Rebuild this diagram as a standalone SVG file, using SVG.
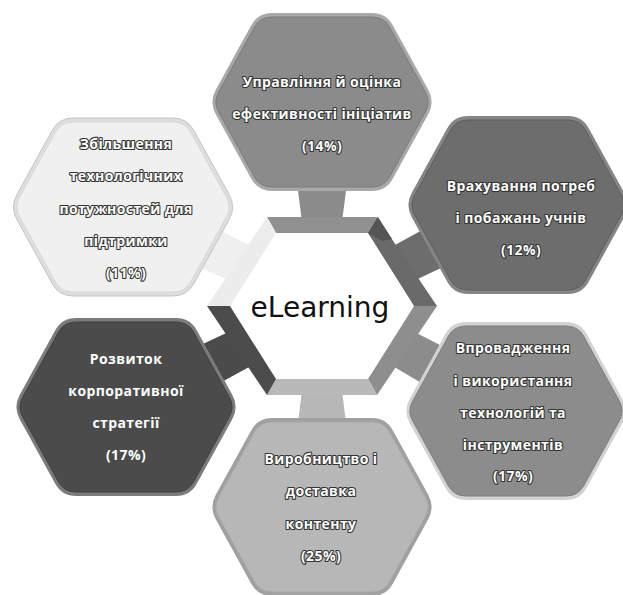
<svg xmlns="http://www.w3.org/2000/svg" xmlns:xlink="http://www.w3.org/1999/xlink" width="623" height="595" viewBox="0 0 623 595">
<defs>
<style>
.t{font-family:"Open Sans","DejaVu Sans",sans-serif;font-weight:700;font-size:14px;letter-spacing:0.4px;fill:#ffffff;stroke:#333333;stroke-width:2.2;paint-order:stroke;stroke-linejoin:round;text-anchor:middle}
.tp{font-family:"Open Sans","DejaVu Sans",sans-serif;font-weight:700;font-size:14px;letter-spacing:0.4px;fill:#ffffff;text-anchor:middle}
.c{font-family:"DejaVu Sans","Liberation Sans",sans-serif;font-size:28px;fill:#111111;text-anchor:middle}
</style>
<path id="hexO" d="M-50,-89 L50,-89 Q64,-89 70.75,-76.74 L106.25,-12.26 Q113,0 106.25,12.26 L70.75,76.74 Q64,89 50,89 L-50,89 Q-64,89 -70.75,76.74 L-106.25,12.26 Q-113,0 -106.25,-12.26 L-70.75,-76.74 Q-64,-89 -50,-89 Z"/>
<path id="hexI" d="M-50,-85 L50,-85 Q62,-85 67.5,-75 L103.5,-9.6 Q108.8,0 103.5,9.6 L67.5,75 Q62,85 50,85 L-50,85 Q-62,85 -67.5,75 L-103.5,9.6 Q-108.8,0 -103.5,-9.6 L-67.5,-75 Q-62,-85 -50,-85 Z"/>
</defs>
<rect width="623" height="595" fill="#ffffff"/>
<g id="connectors">
<polygon points="296,175 348,175 342,222 302,222" fill="#8b8b8b"/>
<polygon points="389,248.3 507.1,183.6 528.9,226.4 407.2,283.9" fill="#6d6d6d"/>
<polygon points="407.8,328.4 527.6,390 504.4,432 388.4,363.4" fill="#8c8c8c"/>
<polygon points="302,390 342,390 348,440 296,440" fill="#b7b7b7"/>
<polygon points="236.8,328.1 115.1,385.6 136.9,428.4 255,363.7" fill="#4b4b4b"/>
<polygon points="254.6,248.1 133.4,185.4 112.6,228.6 237.2,284.1" fill="#efefef"/>
</g>
<g id="node-top" transform="translate(322,102)">
<use xlink:href="#hexO" fill="#a8a8a8"/>
<use xlink:href="#hexI" fill="#8b8b8b" stroke="#7a7a7a" stroke-width="1"/>
</g>
<g id="node-upper-right" transform="translate(518,205)">
<use xlink:href="#hexO" fill="#858585"/>
<use xlink:href="#hexI" fill="#6d6d6d" stroke="#5e5e5e" stroke-width="1"/>
</g>
<g id="node-lower-right" transform="translate(516,411)">
<use xlink:href="#hexO" fill="#d2d2d2"/>
<use xlink:href="#hexI" fill="#8c8c8c" stroke="#7c7c7c" stroke-width="1"/>
</g>
<g id="node-bottom" transform="translate(322,507)">
<use xlink:href="#hexO" fill="#a0a0a0"/>
<use xlink:href="#hexI" fill="#b7b7b7" stroke="#a8a8a8" stroke-width="1"/>
</g>
<g id="node-lower-left" transform="translate(126,407)">
<use xlink:href="#hexO" fill="#7b7b7b"/>
<use xlink:href="#hexI" fill="#4b4b4b" stroke="#404040" stroke-width="1"/>
</g>
<g id="node-upper-left" transform="translate(123,207)">
<use xlink:href="#hexO" fill="#dedede" stroke="#c4c4c4" stroke-width="1"/>
<use xlink:href="#hexI" fill="#f0f0f0" stroke="#d8d8d8" stroke-width="1"/>
</g>
<g id="node-center">
<polygon points="267,217 377,217 368,233 276,233" fill="#909090"/>
<polygon points="377,217 437,306 414,306 368,233" fill="#6a6a6a"/>
<polygon points="437,306 377,395 368,379 414,306" fill="#8e8e8e"/>
<polygon points="377,395 267,395 276,379 368,379" fill="#b9b9b9"/>
<polygon points="267,395 207,306 230,306 276,379" fill="#4c4c4c"/>
<polygon points="207,306 267,217 276,233 230,306" fill="#ececec"/>
<polygon points="378,217 392,239 382,241 368,233" fill="#555555"/>
<path d="M284,233 L360,233 Q368,233 372,240 L410,300 Q414,306 410,312 L372,372 Q368,379 360,379 L284,379 Q276,379 272,372 L234,312 Q230,306 234,300 L272,240 Q276,233 284,233 Z" fill="#ffffff"/>
<text class="c" x="320" y="317">eLearning</text>
</g>
<g id="labels">
<text class="t" x="322" y="87">Управління й оцінка</text>
<text class="t" x="322" y="119">ефективності ініціатив</text>
<text class="t" x="322" y="151">(14%)</text>
<text class="t" x="521" y="191">Врахування потреб</text>
<text class="t" x="521" y="223">і побажань учнів</text>
<text class="t" x="521" y="255">(12%)</text>
<text class="t" x="513" y="353">Впровадження</text>
<text class="t" x="513" y="386">і використання</text>
<text class="t" x="513" y="418">технологій та</text>
<text class="t" x="513" y="450">інструментів</text>
<text class="t" x="513" y="481">(17%)</text>
<text class="t" x="321" y="464">Виробництво і</text>
<text class="t" x="321" y="496">доставка</text>
<text class="t" x="321" y="529">контенту</text>
<text class="t" x="321" y="561">(25%)</text>
<text class="tp" x="126" y="364">Розвиток</text>
<text class="tp" x="126" y="396">корпоративної</text>
<text class="tp" x="126" y="428">стратегії</text>
<text class="tp" x="126" y="460">(17%)</text>
<text class="t" x="126" y="149">Збільшення</text>
<text class="t" x="126" y="181">технологічних</text>
<text class="t" x="126" y="214">потужностей для</text>
<text class="t" x="126" y="246">підтримки</text>
<text class="t" x="126" y="278">(11%)</text>
</g>
</svg>
